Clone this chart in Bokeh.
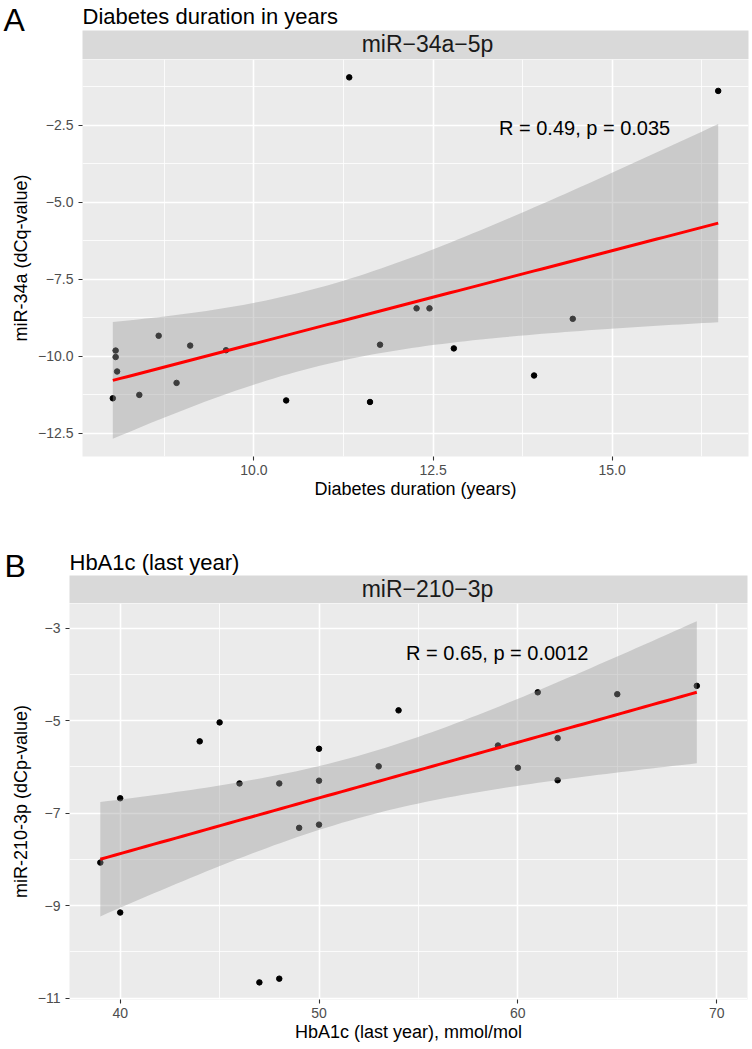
import numpy as np
from bokeh.plotting import figure
from bokeh.models import FixedTicker, Label, Range1d
from bokeh.layouts import column
from bokeh.embed import file_html
from bokeh.resources import INLINE

# ---------------- data ----------------
# A: miR-34a-5p against diabetes duration
dur_years = [8.03, 8.07, 8.07, 8.09, 8.40, 8.67, 8.92, 9.11, 9.61, 10.45,
             11.33, 11.62, 11.76, 12.27, 12.45, 12.79, 13.91, 14.45, 16.48]
mir34a_dcq = [-11.36, -9.81, -10.02, -10.49, -11.25, -9.33, -10.86, -9.65, -9.80, -11.43,
              -0.94, -11.48, -9.62, -8.44, -8.44, -9.74, -10.62, -8.78, -1.38]

# B: miR-210-3p against HbA1c of the last year
hba1c = [39, 40, 40, 44, 45, 46, 47, 48, 48, 49, 50,
         50, 50, 53, 54, 59, 60, 61, 62, 62, 65, 69]
mir210_dcp = [-8.07, -6.68, -9.15, -5.45, -5.04, -6.36, -10.66, -6.36, -10.58, -7.32, -5.61,
              -6.30, -7.25, -5.99, -4.78, -5.54, -6.02, -4.39, -5.38, -6.29, -4.43, -4.25]

# ticks and labels
a_x_ticks = [10.0, 12.5, 15.0]
a_x_labels = ["10.0", "12.5", "15.0"]
a_y_ticks = [-12.5, -10.0, -7.5, -5.0, -2.5]
a_y_labels = ["\u221212.5", "\u221210.0", "\u22127.5", "\u22125.0", "\u22122.5"]
b_x_ticks = [40, 50, 60, 70]
b_x_labels = ["40", "50", "60", "70"]
b_y_ticks = [-11, -9, -7, -5, -3]
b_y_labels = ["\u221211", "\u22129", "\u22127", "\u22125", "\u22123"]

# axis limits of each panel
a_xlim = (7.607, 16.903)
a_ylim = (-13.25, -0.36)
b_xlim = (37.45, 71.55)
b_ylim = (-11.03, -2.47)

# texts
a_tag, a_title, a_strip = "A", "Diabetes duration in years", "miR\u221234a\u22125p"
a_xlab, a_ylab = "Diabetes duration (years)", "miR-34a (dCq-value)"
a_stat = "R = 0.49, p = 0.035"
b_tag, b_title, b_strip = "B", "HbA1c (last year)", "miR\u2212210\u22123p"
b_xlab, b_ylab = "HbA1c (last year), mmol/mol", "miR-210-3p (dCp-value)"
b_stat = "R = 0.65, p = 0.0012"

# two-sided 95% t quantiles for n-2 degrees of freedom
T975 = {17: 2.1098, 20: 2.0860}

FONT = "Liberation Sans"
BG = "#EBEBEB"
STRIP_BG = "#D9D9D9"
WIDTH = 752
STRIP_TEXT_X = 427      # horizontal centre of the strip text, px
BASE_SHIFT = 0.23       # baseline correction for alphabetic labels, in em


def lm_band(x, y, n_grid=80):
    x = np.asarray(x, float)
    y = np.asarray(y, float)
    n = len(x)
    xb, yb = x.mean(), y.mean()
    sxx = ((x - xb) ** 2).sum()
    b = ((x - xb) * (y - yb)).sum() / sxx
    a = yb - b * xb
    s = np.sqrt(((y - (a + b * x)) ** 2).sum() / (n - 2))
    xs = np.linspace(x.min(), x.max(), n_grid)
    fit = a + b * xs
    se = s * np.sqrt(1.0 / n + (xs - xb) ** 2 / sxx)
    t = T975[n - 2]
    return xs, fit, fit - t * se, fit + t * se


def minor_between(ticks, lo, hi):
    step = ticks[1] - ticks[0]
    cand = [ticks[0] - step / 2] + [t + step / 2 for t in ticks]
    return [c for c in cand if lo < c < hi]


def header(height, left, right, strip_top, tag, tag_pos, title, title_base, strip):
    """Tag, title and facet strip, laid out in pixel coordinates (y down)."""
    h = figure(width=WIDTH, height=height, x_range=Range1d(0, WIDTH),
               y_range=Range1d(height, 0), output_backend="svg",
               toolbar_location=None, x_axis_type=None, y_axis_type=None,
               min_border=0)
    h.min_border_left = h.min_border_right = 0
    h.min_border_top = h.min_border_bottom = 0
    h.outline_line_color = None
    h.background_fill_color = "white"
    h.border_fill_color = "white"
    h.xgrid.visible = False
    h.ygrid.visible = False
    right_edge = WIDTH - right
    h.quad(left=left, right=right_edge, top=strip_top, bottom=height,
           fill_color=STRIP_BG, line_color=None)
    h.add_layout(Label(x=STRIP_TEXT_X, y=(strip_top + height) / 2 - 1,
                       text=strip, text_align="center", text_baseline="middle",
                       text_font=FONT, text_font_size="23px", text_color="#1A1A1A"))
    h.add_layout(Label(x=left, y=title_base - BASE_SHIFT * 22, text=title,
                       text_baseline="alphabetic",
                       text_font=FONT, text_font_size="22px", text_color="black"))
    h.add_layout(Label(x=tag_pos[0], y=tag_pos[1] - BASE_SHIFT * 32, text=tag,
                       text_baseline="alphabetic",
                       text_font=FONT, text_font_size="32px", text_color="black"))
    return h


def panel(x, y, xlim, ylim, xt, xtl, yt, ytl, xlab, ylab, stat, stat_xy,
          height, left, right, bottom):
    p = figure(width=WIDTH, height=height,
               x_range=Range1d(*xlim), y_range=Range1d(*ylim),
               output_backend="svg", toolbar_location=None,
               min_border_left=left, min_border_right=right,
               min_border_top=0, min_border_bottom=bottom)
    p.background_fill_color = BG
    p.border_fill_color = "white"
    p.outline_line_color = None

    xtick = FixedTicker(ticks=xt, minor_ticks=minor_between(xt, *xlim))
    ytick = FixedTicker(ticks=yt, minor_ticks=minor_between(yt, *ylim))
    p.xaxis.ticker = xtick
    p.yaxis.ticker = ytick
    p.xgrid.ticker = xtick
    p.ygrid.ticker = ytick
    p.xaxis.major_label_overrides = dict(zip(xt, xtl))
    p.yaxis.major_label_overrides = dict(zip(yt, ytl))

    for g in (p.xgrid, p.ygrid):
        g.grid_line_color = "white"
        g.grid_line_width = 1.6
        g.minor_grid_line_color = "white"
        g.minor_grid_line_width = 0.8

    for ax in (p.xaxis, p.yaxis):
        ax.axis_line_color = None
        ax.major_tick_line_color = "#333333"
        ax.major_tick_line_width = 1.1
        ax.major_tick_out = 4
        ax.major_tick_in = 0
        ax.minor_tick_line_color = None
        ax.major_label_text_font = FONT
        ax.major_label_text_font_size = "14px"
        ax.major_label_text_color = "#4D4D4D"
        ax.axis_label_text_font = FONT
        ax.axis_label_text_font_size = "18px"
        ax.axis_label_text_font_style = "normal"
        ax.axis_label_text_color = "black"
    p.xaxis.axis_label = xlab
    p.yaxis.axis_label = ylab
    p.xaxis.major_label_standoff = 4
    p.xaxis.axis_label_standoff = 1
    p.yaxis.major_label_standoff = 5
    p.yaxis.axis_label_standoff = 4

    # points, confidence band and fitted line
    p.scatter(x, y, size=5.5, color="black")
    xs, fit, lo, hi = lm_band(x, y)
    p.varea(x=xs, y1=lo, y2=hi, fill_color="#999999", fill_alpha=0.4)
    p.line(xs, fit, line_color="red", line_width=3)

    # correlation label; baseline lifted by the same correction as the titles
    frame_h = height - bottom
    per_px = (ylim[1] - ylim[0]) / frame_h
    p.add_layout(Label(x=stat_xy[0], y=stat_xy[1] + BASE_SHIFT * 20 * per_px, text=stat,
                       text_baseline="alphabetic", text_font=FONT,
                       text_font_size="20px", text_color="black"))
    return p


ha = header(59, 82, 4, 30, a_tag, (3, 26.7), a_title, 21, a_strip)
pa = panel(dur_years, mir34a_dcq, a_xlim, a_ylim, a_x_ticks, a_x_labels, a_y_ticks, a_y_labels,
           a_xlab, a_ylab, a_stat, (13.42, -2.73),
           height=471, left=82, right=4, bottom=74)

hb = header(73, 69, 5, 45, b_tag, (4, 43.3), b_title, 36.7, b_strip)
pb = panel(hba1c, mir210_dcp, b_xlim, b_ylim, b_x_ticks, b_x_labels, b_y_ticks, b_y_labels,
           b_xlab, b_ylab, b_stat, (54.38, -3.635),
           height=446, left=69, right=5, bottom=50)

# each figure in its own box so their frames are laid out independently
layout = column(column(ha), column(pa), column(hb), column(pb))
open("out.html", "w").write(file_html(layout, INLINE))
